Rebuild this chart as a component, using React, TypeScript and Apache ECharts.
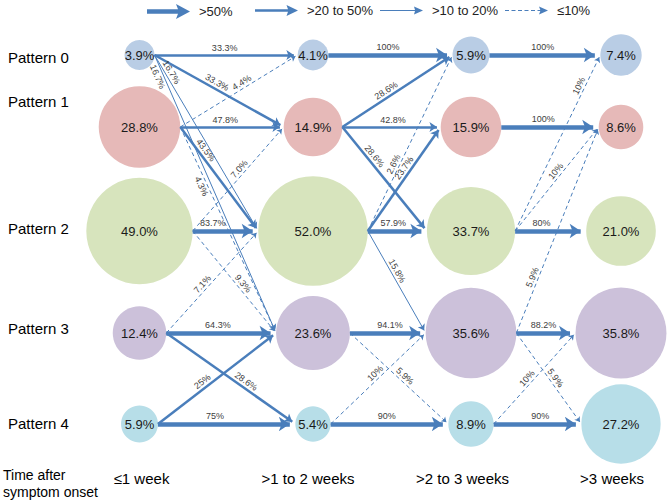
import React, { useEffect, useRef } from 'react';
import * as echarts from 'echarts';

// ---------------- data ----------------
const TIME_LABELS = ['≤1 week', '>1 to 2 weeks', '>2 to 3 weeks', '>3 weeks'];
const PATTERNS = ['Pattern 0', 'Pattern 1', 'Pattern 2', 'Pattern 3', 'Pattern 4'];
const AXIS_TITLE = 'Time after\nsymptom onset';

// share of patients in each pattern (%), per time window
const SHARE_WEEK1 = [3.9, 28.8, 49.0, 12.4, 5.9];
const SHARE_WEEK2 = [4.1, 14.9, 52.0, 23.6, 5.4];
const SHARE_WEEK3 = [5.9, 15.9, 33.7, 35.6, 8.9];
const SHARE_WEEK4 = [7.4, 8.6, 21.0, 35.8, 27.2];

// transitions: [from pattern, to pattern, percent]
const FLOW_1_TO_2: [number, number, string][] = [
  [0, 0, '33.3'], [0, 1, '33.3'], [0, 2, '16.7'], [0, 3, '16.7'],
  [1, 0, '4.4'], [1, 1, '47.8'], [1, 2, '43.5'], [1, 3, '4.3'],
  [2, 1, '7.0'], [2, 2, '83.7'], [2, 3, '9.3'],
  [3, 2, '7.1'], [3, 3, '64.3'], [3, 4, '28.6'],
  [4, 3, '25'], [4, 4, '75'],
];
const FLOW_2_TO_3: [number, number, string][] = [
  [0, 0, '100'],
  [1, 0, '28.6'], [1, 1, '42.8'], [1, 2, '28.6'],
  [2, 0, '2.6'], [2, 1, '23.7'], [2, 2, '57.9'], [2, 3, '15.8'],
  [3, 3, '94.1'], [3, 4, '5.9'],
  [4, 3, '10'], [4, 4, '90'],
];
const FLOW_3_TO_4: [number, number, string][] = [
  [0, 0, '100'],
  [1, 1, '100'],
  [2, 0, '10'], [2, 1, '10'], [2, 2, '80'],
  [3, 1, '5.9'], [3, 3, '88.2'], [3, 4, '5.9'],
  [4, 3, '10'], [4, 4, '90'],
];
const LEGEND_LABELS = ['>50%', '>20 to 50%', '>10 to 20%', '≤10%'];

// ---------------- layout / style ----------------
const SHARES = [SHARE_WEEK1, SHARE_WEEK2, SHARE_WEEK3, SHARE_WEEK4];
const FLOWS = [FLOW_1_TO_2, FLOW_2_TO_3, FLOW_3_TO_4];
const W = 669;
const GRID_H = 465;
const COL_X = [139.5, 313, 471, 621];
const ROW_Y = [55, 127, 231, 333, 424];
const COL_LABEL_X = [141.5, 308, 462.5, 612];
const ROW_LABEL_Y = [57, 101, 228, 328, 423];
const R_SCALE = 7.6;
const FONT = '"Liberation Sans", Arial, sans-serif';
const BLUE = '#4a7ebb';
const NODE_COLORS = ['#b9cde5', '#e6b9b8', '#d7e4bd', '#ccc1da', '#b7dee8'];
const LINE_W = [4.5, 2.5, 1, 1];
const ARROW = [11, 7.5, 6, 5];
const LEGEND_LEFT = [147, 255, 380, 505];
const LEGEND_ICONS = [
  'path://M0,5.25L31,5.25L29,0L43,7.5L29,15L31,9.75L0,9.75Z',
  'path://M0,4.25L33,4.25L31.5,0L43,5.5L31.5,11L33,6.75L0,6.75Z',
  'path://M0,3.5L35,3.5L34,0L43,4L34,8L35,4.5L0,4.5Z',
  'path://M0,3.5L4,3.5L4,4.5L0,4.5Z M6.5,3.5L10.5,3.5L10.5,4.5L6.5,4.5Z M13,3.5L17,3.5L17,4.5L13,4.5Z M19.5,3.5L23.5,3.5L23.5,4.5L19.5,4.5Z M26,3.5L30,3.5L30,4.5L26,4.5Z M32.5,3.5L35.5,3.5L35.5,4.5L32.5,4.5Z M34,0L43,4L34,8L35.5,4Z',
];
// where along each arrow its label sits (fraction), and on which side
const LABEL_AT: Record<string, [number, 'top' | 'bottom']> = {
  '0-0-0': [0.49, 'top'], '0-0-1': [0.46, 'top'], '0-0-2': [0.115, 'top'], '0-0-3': [0.07, 'bottom'],
  '0-1-0': [0.55, 'top'], '0-1-1': [0.435, 'top'], '0-1-2': [0.26, 'top'], '0-1-3': [0.276, 'bottom'],
  '0-2-1': [0.56, 'top'], '0-2-2': [0.305, 'top'], '0-2-3': [0.55, 'top'],
  '0-3-2': [0.44, 'top'], '0-3-3': [0.47, 'top'], '0-3-4': [0.59, 'top'],
  '0-4-3': [0.41, 'top'], '0-4-4': [0.415, 'top'],
  '1-0-0': [0.48, 'top'],
  '1-1-0': [0.43, 'top'], '1-1-1': [0.515, 'top'], '1-1-2': [0.32, 'top'],
  '1-2-0': [0.365, 'top'], '1-2-1': [0.57, 'top'], '1-2-2': [0.43, 'top'], '1-2-3': [0.42, 'top'],
  '1-3-3': [0.53, 'top'], '1-3-4': [0.52, 'top'],
  '1-4-3': [0.51, 'top'], '1-4-4': [0.476, 'top'],
  '2-0-0': [0.48, 'top'], '2-1-1': [0.43, 'top'],
  '2-2-0': [0.81, 'top'], '2-2-1': [0.54, 'top'], '2-2-2': [0.37, 'top'],
  '2-3-1': [0.26, 'top'], '2-3-3': [0.46, 'top'], '2-3-4': [0.53, 'top'],
  '2-4-3': [0.46, 'top'], '2-4-4': [0.53, 'top'],
};

const radius = (v: number) => R_SCALE * Math.sqrt(v);
const textWidth = (s: string, size: number) =>
  s.split('').reduce((a, ch) => a + (ch === '.' ? 0.278 : ch === '%' ? 0.889 : 0.556) * size, 0);
const category = (v: number) => (v > 50 ? 0 : v > 20 ? 1 : v > 10 ? 2 : 3);

function buildEdges() {
  const byCat: any[][] = [[], [], [], []];
  FLOWS.forEach((flow, c) => {
    flow.forEach(([f, t, p]) => {
      const k = category(parseFloat(p));
      const x1 = COL_X[c] + radius(SHARES[c][f]);
      const y1 = ROW_Y[f];
      const xt = COL_X[c + 1] - radius(SHARES[c + 1][t]);
      const yt = ROW_Y[t];
      const dx = xt - x1;
      const dy = yt - y1;
      const len = Math.hypot(dx, dy);
      const ux = dx / len;
      const uy = dy / len;
      const s = ARROW[k];
      const x2 = xt - (ux * s) / 2;
      const y2 = yt - (uy * s) / 2;
      const text = p + '%';
      const [frac, side] = LABEL_AT[`${c}-${f}-${t}`] || [0.5, 'top'];
      const along = frac * len - textWidth(text, 9) / 2;
      byCat[k].push({
        coords: [[x1, y1], [x2, y2]],
        label: {
          show: true,
          formatter: text,
          position: side === 'top' ? 'insideStartTop' : 'insideStartBottom',
          distance: [along, LINE_W[k] / 2 + 0.8],
        },
      });
    });
  });
  return byCat;
}

function buildOption() {
  const edges = buildEdges();
  const nodes = SHARES.flatMap((arr, c) =>
    arr.map((v, r) => ({ value: [COL_X[c], ROW_Y[r], v], itemStyle: { color: NODE_COLORS[r] } }))
  );
  const lineSeries = LEGEND_LABELS.map((name, k) => ({
    type: 'lines',
    name,
    coordinateSystem: 'cartesian2d',
    z: 3,
    silent: true,
    symbol: ['none', 'arrow'],
    symbolSize: ARROW[k],
    lineStyle: {
      color: BLUE,
      width: LINE_W[k],
      type: k === 3 ? [4, 3] : 'solid',
      opacity: 1,
      curveness: 0,
    },
    label: { show: true, fontSize: 9, color: '#404040', fontFamily: FONT },
    emphasis: { disabled: true },
    data: edges[k],
  }));
  return {
    animation: false,
    backgroundColor: '#ffffff',
    textStyle: { fontFamily: FONT },
    title: {
      text: AXIS_TITLE,
      left: 3,
      top: 466,
      padding: 0,
      textStyle: { fontSize: 14, fontWeight: 'normal', color: '#000', lineHeight: 17, fontFamily: FONT },
    },
    legend: LEGEND_LABELS.map((name, k) => ({
      left: LEGEND_LEFT[k],
      top: 4,
      padding: 0,
      selectedMode: false,
      itemWidth: 43,
      itemHeight: 15,
      symbolKeepAspect: true,
      itemStyle: { color: BLUE, borderWidth: 0 },
      textStyle: { fontSize: 13, color: '#222', fontFamily: FONT, padding: [0, 0, 0, 4] },
      data: [{ name, icon: LEGEND_ICONS[k] }],
    })),
    grid: { left: 0, right: 0, top: 0, height: GRID_H, containLabel: false },
    xAxis: {
      type: 'value',
      min: 0,
      max: W,
      splitLine: { show: false },
      axisLine: { show: false },
      axisTick: { show: false },
      axisLabel: {
        customValues: COL_LABEL_X,
        formatter: (v: number) => TIME_LABELS[COL_LABEL_X.indexOf(v)] ?? '',
        fontSize: 15,
        color: '#000',
        margin: 6,
        fontFamily: FONT,
      },
    },
    yAxis: {
      type: 'value',
      min: 0,
      max: GRID_H,
      inverse: true,
      splitLine: { show: false },
      axisLine: { show: false },
      axisTick: { show: false },
      axisLabel: {
        inside: true,
        margin: 8,
        customValues: ROW_LABEL_Y,
        formatter: (v: number) => PATTERNS[ROW_LABEL_Y.indexOf(v)] ?? '',
        fontSize: 15,
        color: '#000',
        fontFamily: FONT,
      },
    },
    series: [
      {
        type: 'scatter',
        z: 2,
        silent: true,
        data: nodes,
        symbolSize: (val: number[]) => 2 * radius(val[2]),
        itemStyle: { opacity: 1 },
        label: {
          show: true,
          position: 'inside',
          formatter: (p: any) => p.value[2].toFixed(1) + '%',
          fontSize: 13,
          color: '#1a1a1a',
          fontFamily: FONT,
        },
        emphasis: { disabled: true },
      },
      ...lineSeries,
    ],
  };
}

export default function App() {
  const ref = useRef<HTMLDivElement>(null);
  useEffect(() => {
    if (!ref.current) return;
    const chart = echarts.init(ref.current, null, { renderer: 'svg' });
    chart.setOption(buildOption() as any);
    return () => chart.dispose();
  }, []);
  return (
    <div
      ref={ref}
      style={{ position: 'fixed', left: 0, top: 0, width: 669, height: 502, background: '#fff' }}
    />
  );
}
